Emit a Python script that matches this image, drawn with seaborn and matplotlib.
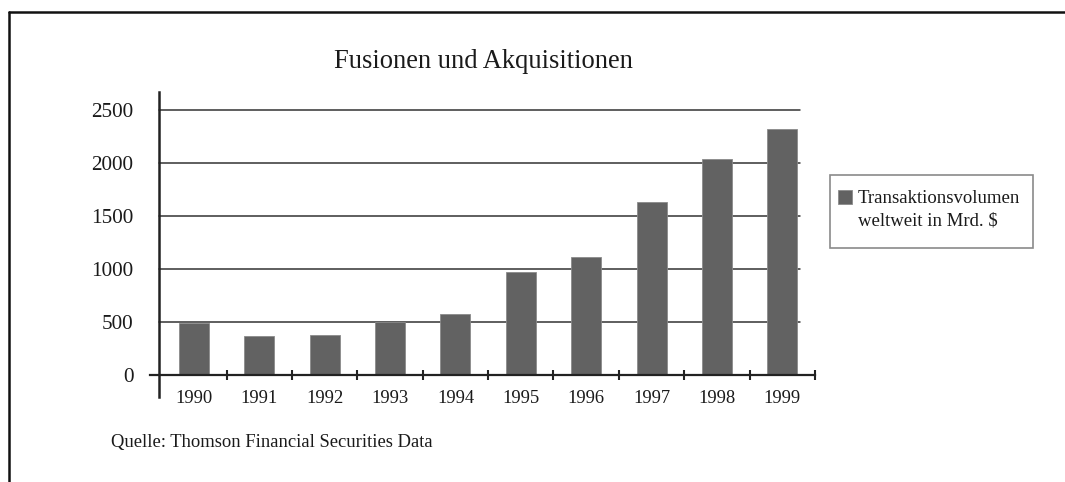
import matplotlib
matplotlib.use("Agg")
import matplotlib.pyplot as plt
import seaborn as sns
from matplotlib.lines import Line2D
from matplotlib.patches import Patch, Rectangle

# Daten
jahre = ["1990", "1991", "1992", "1993", "1994", "1995", "1996", "1997", "1998", "1999"]
volumen = [490, 370, 375, 505, 575, 970, 1110, 1630, 2035, 2320]
y_ticks = [0, 500, 1000, 1500, 2000, 2500]
titel = "Fusionen und Akquisitionen"
legende = "Transaktionsvolumen\nweltweit in Mrd. \\$"
quelle = "Quelle: Thomson Financial Securities Data"

sns.set_style("white")
plt.rcParams["font.family"] = ["Liberation Serif", "DejaVu Serif"]
plt.rcParams["text.color"] = "#1a1a1a"

W, H = 1065, 482
fig = plt.figure(figsize=(W / 100, H / 100), dpi=100)
ax = fig.add_axes([150 / W, 85 / H, 665 / W, 305 / H])

farbe = "#626262"
sns.barplot(x=jahre, y=volumen, color=farbe, saturation=1, width=0.46,
            edgecolor="#8a8a8a", linewidth=0.6, ax=ax)

ax.set_xlim(-0.672, 9.481)
ax.set_ylim(-207, 2670)

# Achsen
for s in ["top", "right"]:
    ax.spines[s].set_visible(False)
ax.spines["left"].set_position(("data", -0.534))
ax.spines["bottom"].set_position(("data", 0))
ax.spines["left"].set_linewidth(1.8)
ax.spines["bottom"].set_linewidth(1.6)
ax.spines["left"].set_color("#222222")
ax.spines["bottom"].set_color("#222222")

# Gitterlinien
for y in y_ticks[1:]:
    ax.axhline(y, xmin=9 / 665, xmax=650 / 665, color="#333333", lw=1.1, zorder=0)

ax.set_yticks(y_ticks)
ax.tick_params(axis="y", length=0, pad=18.5, labelsize=15.2, labelcolor="#1a1a1a")
ax.set_xticks(range(len(jahre)))
ax.set_xticklabels(jahre)
ax.tick_params(axis="x", which="major", bottom=True, length=0, pad=11,
               labelsize=13.4, labelcolor="#1a1a1a")
ax.set_xticks([i + 0.5 for i in range(len(jahre))], minor=True)
ax.tick_params(axis="x", which="minor", bottom=True, direction="inout", length=7,
               width=1.5, color="#222222")
ax.set_xlabel("")
ax.set_ylabel("")

# Legende (Rahmen separat gezeichnet)
fig.add_artist(Rectangle((830 / W, 1 - 248 / H), 203 / W, 73 / H,
                         transform=fig.transFigure, facecolor="none",
                         edgecolor="#8a8a8a", linewidth=1.2))
handle = Patch(facecolor=farbe, edgecolor="#8a8a8a", linewidth=0.6)
leg = ax.legend([handle], [legende], loc="upper left",
                bbox_to_anchor=(838 / W, 1 - 190 / H), bbox_transform=fig.transFigure,
                borderaxespad=0, fontsize=13.5, frameon=False,
                handlelength=0.75, handleheight=0.75, handletextpad=0.3,
                borderpad=0)
leg.get_texts()[0].set_linespacing(1.4)
for spalte in leg._legend_handle_box.get_children():
    for eintrag in spalte.get_children():
        eintrag.align = "top"

fig.text(483 / W, 1 - 62 / H, titel, ha="center", va="center", fontsize=19.1)
fig.text(111 / W, 1 - 442 / H, quelle, ha="left", va="center", fontsize=13.4)

# Rahmen
fig.add_artist(Line2D([9 / W, 9 / W], [0, 1 - 12 / H], color="#111111", lw=1.8))
fig.add_artist(Line2D([9 / W, 1], [1 - 12 / H, 1 - 12 / H], color="#111111", lw=1.8))

fig.savefig("out.png", dpi=100, facecolor="white")
